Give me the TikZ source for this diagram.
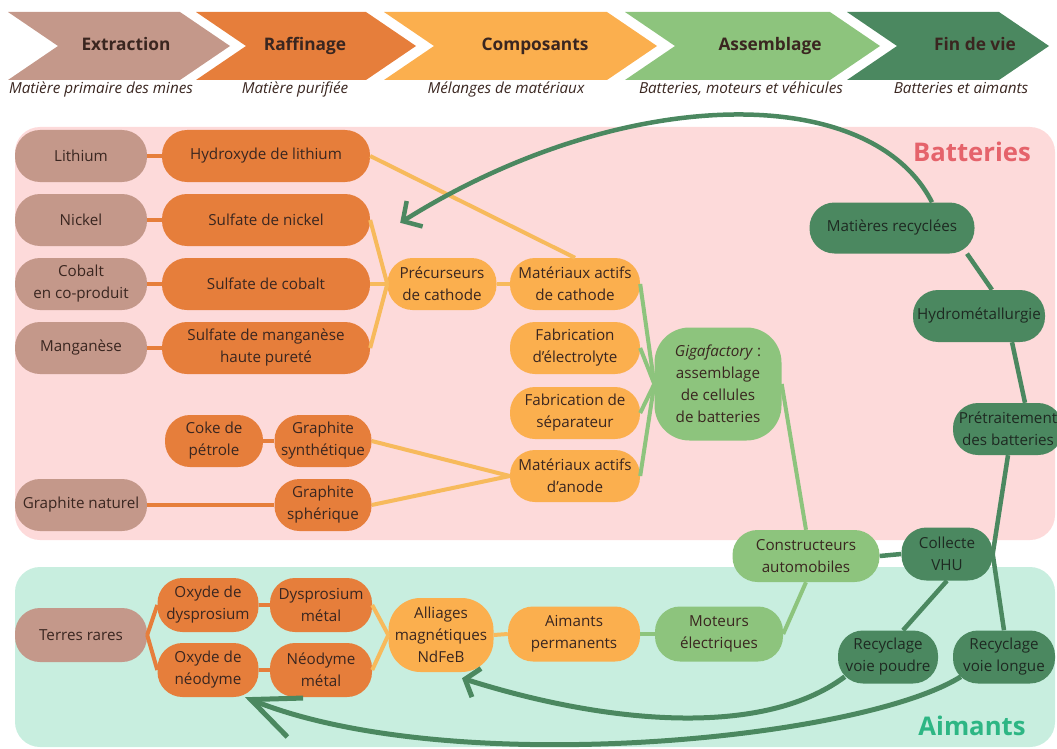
\documentclass[tikz,border=0pt]{standalone}
\usepackage{fontspec}
\setmainfont{Open Sans}
\usetikzlibrary{calc,arrows.meta}

\definecolor{cextr}{HTML}{C4988A}
\definecolor{craff}{HTML}{E67E3B}
\definecolor{ccomp}{HTML}{FBAF4E}
\definecolor{casm}{HTML}{8DC47D}
\definecolor{cfin}{HTML}{4B8860}
\definecolor{ccompline}{HTML}{F7BA5C}
\definecolor{cpink}{HTML}{FDDADA}
\definecolor{cmint}{HTML}{C8EEDF}
\definecolor{cbattxt}{HTML}{E5636B}
\definecolor{caimtxt}{HTML}{2DB684}
\definecolor{ctxt}{HTML}{3A2620}
\definecolor{ctxtd}{HTML}{1E2A22}

\newcommand\boxfont{\fontsize{15.2pt}{22pt}\selectfont}
\newcommand\phasefont{\fontsize{17.3pt}{20pt}\selectfont\bfseries}
\newcommand\subfont{\fontsize{15.2pt}{18pt}\selectfont\itshape}
\newcommand\panelfont{\fontsize{25.7pt}{30pt}\selectfont\bfseries}

\tikzset{
  pill/.style={rectangle, rounded corners=25pt, minimum height=52pt, inner sep=3pt, align=center, text=ctxt, font=\boxfont},
  mine/.style={pill, fill=cextr, minimum width=132pt},
  raff/.style={pill, fill=craff},
  comp/.style={pill, fill=ccomp},
  asm/.style={pill, fill=casm},
  fin/.style={pill, fill=cfin, text=ctxtd},
  raffline/.style={draw=craff, line width=4pt},
  compline/.style={draw=ccompline, line width=4pt},
  asmline/.style={draw=casm, line width=4pt},
  finline/.style={draw=cfin, line width=4.5pt},
  retour/.style={draw=cfin, line width=5pt},
}

\begin{document}
\begin{tikzpicture}[x=1pt,y=-1pt]

     \useasboundingbox (0,0) rectangle (1057,749);

     \foreach \l/\t/\c/\lab/\xl/\sub/\xs [count=\i] in {
       8/230/cextr/Extraction/126/{Matière primaire des mines}/101,
       196/416/craff/Raffinage/305/{Matière purifiée}/295,
       384/657/ccomp/Composants/535/{Mélanges de matériaux}/506,
       625/880/casm/Assemblage/770/{Batteries, moteurs et véhicules}/741,
       847/1049/cfin/{Fin de vie}/975/{Batteries et aimants}/961}
     {
       \fill[\c] (\l,12) -- (\t-50,12) -- (\t,46) -- (\t-50,80) -- (\l,80) -- (\l+50,46) -- cycle;
       \node[font=\phasefont, text=ctxt, text height=12.5pt, text depth=3.5pt] (phase\i) at (\xl,46) {\lab};
       \node[font=\subfont, text=ctxt, text height=11pt, text depth=3.5pt] (sub\i) at (\xs,90) {\sub};
     }

     \fill[cpink, rounded corners=25pt] (15,127) rectangle (1055,540);
     \fill[cmint, rounded corners=25pt] (15,567) rectangle (1055,747);
     \node[font=\panelfont, text=cbattxt] (battitle) at (972,152) {Batteries};
     \node[font=\panelfont, text=caimtxt] (aimtitle) at (972,726) {Aimants};

     \node[mine] (li) at (81,156) {Lithium};
     \node[mine] (ni) at (81,220) {Nickel};
     \node[mine] (co) at (81,284) {Cobalt\\en co-produit};
     \node[mine] (mn) at (81,348) {Manganèse};
     \node[mine] (gnat) at (81,505) {Graphite naturel};
     \node[mine, minimum height=54pt] (trr) at (81,635) {Terres rares};

     \node[raff, minimum width=208pt] (lioh) at (266,156) {Hydroxyde de lithium};
     \node[raff, minimum width=208pt] (sni) at (266,220) {Sulfate de nickel};
     \node[raff, minimum width=208pt] (sco) at (266,284) {Sulfate de cobalt};
     \node[raff, minimum width=208pt] (smn) at (266,348) {Sulfate de manganèse\\haute pureté};
     \node[raff, minimum width=98pt] (coke) at (214,441) {Coke de\\pétrole};
     \node[raff, minimum width=97pt] (gsyn) at (323,441) {Graphite\\synthétique};
     \node[raff, minimum width=97pt] (gsph) at (323,505) {Graphite\\sphérique};
     \node[raff, minimum width=101pt, minimum height=54pt] (dyo) at (208,605) {Oxyde de\\dysprosium};
     \node[raff, minimum width=102pt, minimum height=54pt] (dym) at (321,605) {Dysprosium\\métal};
     \node[raff, minimum width=101pt, minimum height=54pt] (ndo) at (208,670) {Oxyde de\\néodyme};
     \node[raff, minimum width=102pt, minimum height=54pt] (ndm) at (321,670) {Néodyme\\métal};

     \node[comp, minimum width=109pt] (prec) at (442,284) {Précurseurs\\de cathode};
     \node[comp, minimum width=130pt] (mac) at (575,284) {Matériaux actifs\\de cathode};
     \node[comp, minimum width=130pt] (elec) at (575,348) {Fabrication\\d'électrolyte};
     \node[comp, minimum width=130pt] (sep) at (575,413) {Fabrication de\\séparateur};
     \node[comp, minimum width=130pt] (maa) at (575,476) {Matériaux actifs\\d'anode};
     \node[comp, minimum width=105pt, minimum height=74pt, rounded corners=32pt] (ndfeb) at (441,635) {Alliages\\magnétiques\\NdFeB};
     \node[comp, minimum width=132pt, minimum height=55pt] (aim) at (574,634) {Aimants\\permanents};

     \node[asm, minimum width=127pt, minimum height=113pt, rounded corners=35pt] (giga) at (718,384) {\textit{Gigafactory}~:\\assemblage\\de cellules\\de batteries};
     \node[asm, minimum width=147pt] (cons) at (806,556) {Constructeurs\\automobiles};
     \node[asm, minimum width=128pt, minimum height=55pt] (mot) at (719,634) {Moteurs\\électriques};

     \node[fin, minimum width=165pt, minimum height=51pt] (recy) at (892,228) {Matières recyclées};
     \node[fin, minimum width=132pt] (hydro) at (979,316) {Hydrométallurgie};
     \node[fin, minimum width=110pt] (pretr) at (1008,429) {Prétraitement\\des batteries};
     \node[fin, minimum width=91pt, minimum height=53pt] (vhu) at (947,554) {Collecte\\VHU};
     \node[fin, minimum width=100pt, minimum height=53pt] (poudre) at (888,657) {Recyclage\\voie poudre};
     \node[fin, minimum width=102pt, minimum height=53pt] (longue) at (1004,657) {Recyclage\\voie longue};

     \draw[raffline] (li.east) -- (lioh.west);
     \draw[raffline] (ni.east) -- (sni.west);
     \draw[raffline] (co.east) -- (sco.west);
     \draw[raffline] (mn.east) -- (smn.west);
     \draw[raffline] (coke.east) -- (gsyn.west);
     \draw[raffline] (gnat.east) -- (gsph.west);
     \draw[raffline] (trr.east) -- (dyo.west);
     \draw[raffline] (trr.east) -- (ndo.west);
     \draw[raffline] (dyo.east) -- (dym.west);
     \draw[raffline] (ndo.east) -- (ndm.west);

     \draw[compline] (lioh.east) -- (mac.north);
     \draw[compline] (sni.east) -- (prec.west);
     \draw[compline] (sco.east) -- (prec.west);
     \draw[compline] (smn.east) -- (prec.west);
     \draw[compline] (prec.east) -- (mac.west);
     \draw[compline] (gsyn.east) -- (maa.west);
     \draw[compline] (gsph.east) -- (maa.west);
     \draw[compline] (dym.east) -- (ndfeb.west);
     \draw[compline] (ndm.east) -- (ndfeb.west);
     \draw[compline] (ndfeb.east) -- (aim.west);

     \draw[asmline] (mac.east) -- (giga.west);
     \draw[asmline] (elec.east) -- (giga.west);
     \draw[asmline] (sep.east) -- (giga.west);
     \draw[asmline] (maa.east) -- (giga.west);
     \draw[asmline] (giga.east) -- (cons.north);
     \draw[asmline] (cons.south) -- (mot.east);
     \draw[asmline] (aim.east) -- (mot.west);

     \draw[finline] (cons.east) -- (vhu.west);
     \draw[finline] ($(recy.south)+(75,0)$) -- ($(hydro.north)+(13,0)$);
     \draw[finline] ($(hydro.south)+(33,0)$) -- ($(pretr.north)+(17,0)$);
     \draw[finline] (pretr.south) -- (vhu.east);
     \draw[finline] (vhu.east) -- (longue.north);
     \draw[finline] (vhu.south) -- ($(poudre.north)+(15,0)$);

     \coordinate (topend) at ($(sni.north east)+(30,29)$);
     \coordinate (ndfebend) at ($(ndfeb.south)+(21,6)$);
     \coordinate (ndoend) at ($(ndo.south)+(37,0)$);

     \draw[retour, line width=4.5pt, -{Straight Barb[length=14pt,width=30pt]}] ($(recy.north)+(40,0)$) .. controls (870,80) and (620,85) .. (topend);
     \draw[retour, -{Straight Barb[length=12pt,width=30pt]}] ($(poudre.south west)+(7,-7)$) .. controls (760,740) and (600,722) .. (ndfebend);
     \draw[retour, -{Straight Barb[length=48pt,width=42pt]}] ($(longue.south west)+(8,-7)$) .. controls (860,740) and (450,780) .. (ndoend);

\end{tikzpicture}
\end{document}
